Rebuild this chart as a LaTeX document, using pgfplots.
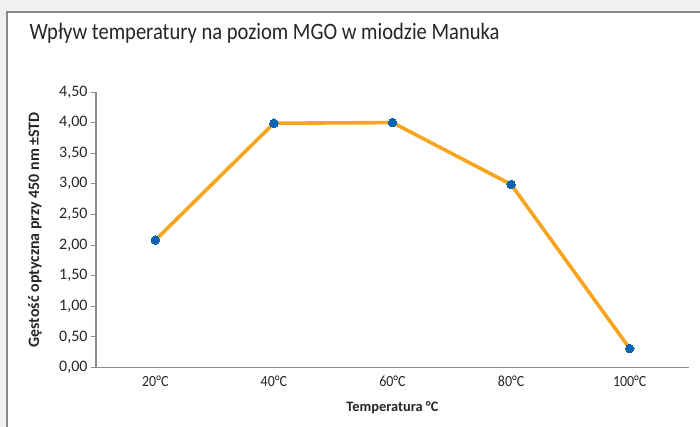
\documentclass[border=0pt]{standalone}
\usepackage{fontspec}
\setmainfont{Carlito}
\newfontfamily\titlefont[FakeStretch=0.875]{Carlito}
\newfontfamily\xtickfont[FakeStretch=0.9]{Carlito}
\usepackage{pgfplots}
\pgfplotsset{compat=1.18}
\definecolor{bggray}{HTML}{F0F0F0}
\definecolor{framegray}{HTML}{8A8A8A}
\definecolor{axgray}{HTML}{8C8C8C}
\definecolor{lineorange}{HTML}{F7A51E}
\definecolor{markblue}{HTML}{0B63B2}
\begin{document}
\begin{tikzpicture}[x=1pt,y=1pt]
\useasboundingbox (0,0) rectangle (700,427);
\fill[bggray] (0,0) rectangle (700,427);
\fill[white] (7,-5) rectangle (705,415);
\draw[framegray,line width=1.2pt] (7,-5) -- (7,415) -- (705,415);
\node[anchor=base west,font=\titlefont\fontsize{23.5}{26}\selectfont,text=black!85] at (26,387) {Wpływ temperatury na poziom MGO w miodzie Manuka};
\begin{axis}[
  at={(96pt,59.5pt)}, anchor=south west,
  width=593pt, height=275.5pt, scale only axis,
  xmin=-0.5, xmax=4.5, ymin=0, ymax=4.5,
  axis x line*=bottom, axis y line*=left,
  axis line style={axgray, line width=1.3pt},
  xtick={0,1,2,3,4},
  xticklabels={20°C,40°C,60°C,80°C,100°C},
  xtick style={draw=none},
  minor xtick={-0.5,0.5,1.5,2.5,3.5,4.5},
  minor x tick style={axgray, line width=0.9pt},
  ytick={0,0.5,...,4.5},
  ytick style={axgray, line width=0.9pt},
  tick align=outside,
  major tick length=5pt, minor tick length=5pt,
  yticklabel style={font=\fontsize{16}{18}\selectfont, text=black!85, /pgf/number format/.cd, fixed, fixed zerofill, precision=2, use comma, assume math mode=true},
  xticklabel style={font=\xtickfont\fontsize{15.5}{17}\selectfont, text=black!85},
  xlabel={Temperatura °C},
  ylabel={Gęstość optyczna przy 450 nm ±STD},
  xlabel style={font=\bfseries\fontsize{14.4}{16}\selectfont, text=black!85, at={(axis description cs:0.5,0)}, anchor=center, yshift=-40pt},
  ylabel style={font=\bfseries\fontsize{15.9}{17}\selectfont, text=black!85, at={(axis description cs:0,0.5)}, anchor=center, yshift=61pt},
  clip=false,
]
\addplot[lineorange, line width=3.6pt, mark=*, mark options={markblue, draw=markblue, fill=markblue, line width=0pt}, mark size=4.3pt]
  coordinates {(0,2.08) (1,3.99) (2,4.00) (3,2.99) (4,0.31)};
\end{axis}
\end{tikzpicture}
\end{document}
